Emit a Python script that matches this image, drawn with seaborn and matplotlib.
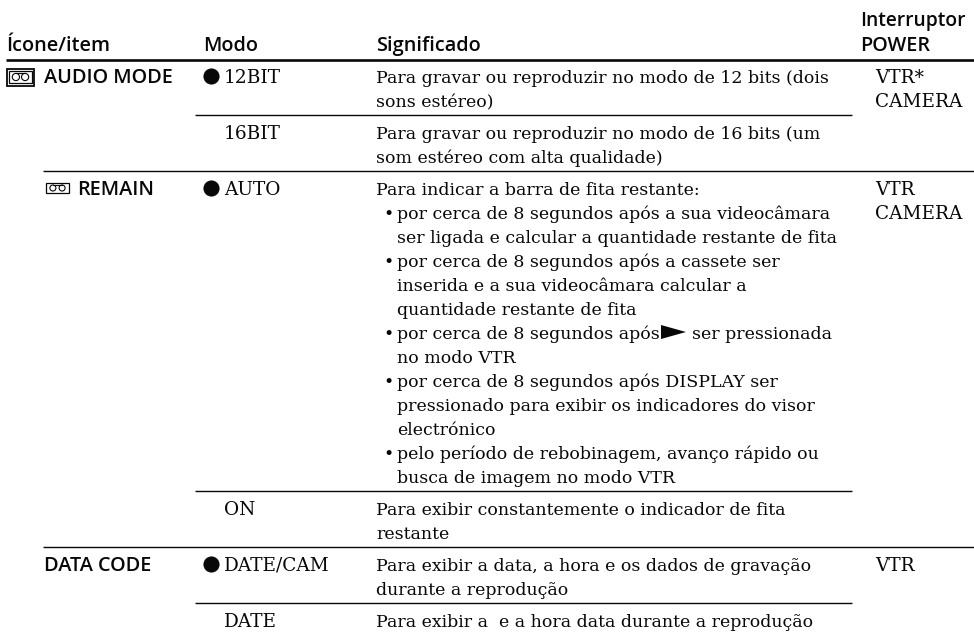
import matplotlib
matplotlib.use("Agg")
import matplotlib.pyplot as plt
from matplotlib.patches import Rectangle, Circle, Polygon
import seaborn as sns

# table content
headers = ["Ícone/item", "Modo", "Significado"]
power_header = ["Interruptor", "POWER"]

items = ["AUDIO MODE", "", "REMAIN", "", "DATA CODE", ""]
modes = ["12BIT", "16BIT", "AUTO", "ON", "DATE/CAM", "DATE"]
default_mode = [True, False, True, False, True, False]
power = [["VTR*", "CAMERA"], [], ["VTR", "CAMERA"], [], ["VTR"], []]

meanings = [
    ["Para gravar ou reproduzir no modo de 12 bits (dois", "sons estéreo)"],
    ["Para gravar ou reproduzir no modo de 16 bits (um", "som estéreo com alta qualidade)"],
    ["Para indicar a barra de fita restante:",
     "• por cerca de 8 segundos após a sua videocâmara",
     "  ser ligada e calcular a quantidade restante de fita",
     "• por cerca de 8 segundos após a cassete ser",
     "  inserida e a sua videocâmara calcular a",
     "  quantidade restante de fita",
     "• por cerca de 8 segundos após",
     "  no modo VTR",
     "• por cerca de 8 segundos após DISPLAY ser",
     "  pressionado para exibir os indicadores do visor",
     "  electrónico",
     "• pelo período de rebobinagem, avanço rápido ou",
     "  busca de imagem no modo VTR"],
    ["Para exibir constantemente o indicador de fita", "restante"],
    ["Para exibir a data, a hora e os dados de gravação", "durante a reprodução"],
    ["Para exibir a  e a hora data durante a reprodução"],
]
after_arrow = "ser pressionada"

SERIF = "DejaVu Serif"
SANS = "Open Sans"
SERIF_SIZE = 12.5
CAPS_SIZE = 13.3
SANS_SIZE = 14.3
LINE = 24
INK = "#080808"

sns.set_theme(style="white")
plt.rcParams["font.family"] = ["DejaVu Sans"]

fig, ax = plt.subplots(figsize=(9.74, 6.32), dpi=100)
ax.set_position([0, 0, 1, 1])
ax.set_xlim(0, 974)
ax.set_ylim(632, 0)
ax.axis("off")


def rule(x0, x1, y, lw):
    sns.lineplot(x=[x0, x1], y=[y, y], ax=ax, color=INK, linewidth=lw,
                 errorbar=None, legend=False, solid_capstyle="butt")


def tape_icon(x, y, w, h, framed):
    if framed:
        ax.add_patch(Rectangle((x, y), w, h, fill=False, ec=INK, lw=1.3))
        x, y, w, h = x + 2, y + 2, w - 4, h - 5
    ax.add_patch(Rectangle((x, y), w, h, fill=False, ec=INK, lw=0.9))
    r = h * 0.3
    for cx in (x + w * 0.3, x + w * 0.7):
        ax.add_patch(Circle((cx, y + h * 0.5), r, fill=False, ec=INK, lw=0.8))
    ax.plot([x + w * 0.3, x + w * 0.7], [y + h * 0.5 - r] * 2, color=INK, lw=0.8)


for x, label in zip([6, 203, 376], headers):
    ax.text(x, 51, label, family=SANS, size=SANS_SIZE, weight="semibold", color=INK)
for y, size, label in zip([26, 51], [13.9, SANS_SIZE], power_header):
    ax.text(860, y, label, family=SANS, size=size, weight="semibold", color=INK)
rule(6, 974, 60, 1.9)

# rows are stacked from their number of text lines
y = 83
bullet_y = []
for i, lines in enumerate(meanings):
    if items[i]:
        x_item = 77 if items[i] == "REMAIN" else 44
        ax.text(x_item, y, items[i], family=SANS, size=SANS_SIZE, weight="semibold", color=INK)
    if items[i] == "AUDIO MODE":
        tape_icon(7, y - 14, 27, 17, True)
    if items[i] == "REMAIN":
        tape_icon(46, y - 12, 23, 10, False)
    ax.text(224, y, modes[i], family=SERIF, size=CAPS_SIZE, color=INK)
    if default_mode[i]:
        bullet_y.append(y - 7)
    for k, label in enumerate(power[i]):
        ax.text(875, y + k * LINE, label, family=SERIF, size=CAPS_SIZE, color=INK)
    for k, text in enumerate(lines):
        base = y + k * LINE
        if text.startswith("•"):
            ax.text(383, base, "•", family=SERIF, size=SERIF_SIZE, color=INK)
            ax.text(397, base, text[2:], family=SERIF, size=SERIF_SIZE, color=INK)
        elif text.startswith("  "):
            ax.text(397, base, text[2:], family=SERIF, size=SERIF_SIZE, color=INK)
        else:
            ax.text(376, base, text, family=SERIF, size=SERIF_SIZE, color=INK)
        if text.endswith("segundos após"):
            ax.add_patch(Polygon([(661, base - 14), (686, base - 7), (661, base)], closed=True, fc=INK, ec="none"))
            ax.text(692, base, after_arrow, family=SERIF, size=SERIF_SIZE, color=INK)
    last = y + (len(lines) - 1) * LINE
    if i < len(meanings) - 1:
        if items[i + 1]:
            rule(43, 974, last + 8, 1.0)
        else:
            rule(195, 852, last + 8, 1.0)
    y = last + 8 + LINE

sns.scatterplot(x=[211] * len(bullet_y), y=bullet_y, ax=ax, color=INK, s=135, linewidth=0, legend=False)
ax.set_xlim(0, 974)
ax.set_ylim(632, 0)
ax.axis("off")

fig.savefig("out.png", dpi=100)
